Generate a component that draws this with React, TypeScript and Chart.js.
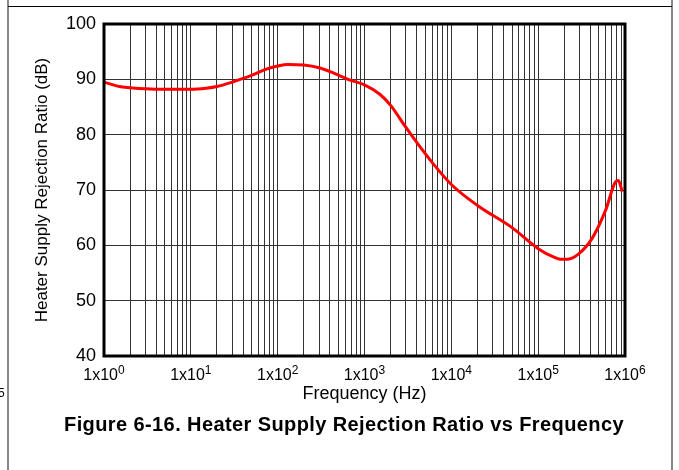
import React, { useEffect, useRef } from "react";
import { Chart, registerables } from "chart.js";

Chart.register(...registerables);

// Frequency (Hz) and heater supply rejection ratio (dB)
const freqHz = [
  1, 1.5, 2, 3, 5, 10, 15, 20, 30, 50, 70, 100, 130, 200, 300, 430, 700, 1000,
  1500, 2000, 3000, 4000, 6000, 10000, 20000, 50000, 100000, 150000,
  180000, 220000, 290000, 420000, 600000, 780000, 840000, 930000,
];
const hsrrDb = [
  89.5, 88.7, 88.5, 88.3, 88.2, 88.2, 88.4, 88.7, 89.5, 90.7, 91.7, 92.4, 92.7,
  92.6, 92.1, 91.2, 89.8, 89.0, 87.3, 85.3, 81.3, 78.6, 75.0, 71.0, 67.2, 63.2,
  59.4, 57.9, 57.5, 57.5, 58.4, 61.3, 66.4, 71.5, 71.7, 69.7,
];

// Axis ticks
const decades = [1, 10, 100, 1000, 10000, 100000, 1000000];
const decadeBase = "1x10";
const decadeExponents = ["0", "1", "2", "3", "4", "5", "6"];
const minorMultipliers = [2, 3, 4, 5, 6, 7, 8, 9];
const yMin = 40;
const yMax = 100;
const yStep = 10;

const xTitle = "Frequency (Hz)";
const yTitle = "Heater Supply Rejection Ratio (dB)";
const caption = "Figure 6-16. Heater Supply Rejection Ratio vs Frequency";

const FONT = "'Liberation Sans', Arial, Helvetica, sans-serif";

const frameBox = {
  id: "frameBox",
  afterDraw(chart: any) {
    const { ctx, chartArea } = chart;
    ctx.save();
    ctx.strokeStyle = "#000";
    ctx.lineWidth = 3;
    ctx.strokeRect(
      chartArea.left,
      chartArea.top,
      chartArea.right - chartArea.left,
      chartArea.bottom - chartArea.top
    );
    ctx.restore();
  },
};

// Draws decade tick labels "1x10" with a raised exponent at the x scale's pixels
const decadeLabelsPlugin = {
  id: "decadeLabels",
  afterDraw(chart: any) {
    const { ctx, chartArea } = chart;
    const xs = chart.scales.x;
    const baseFont = `16px ${FONT}`;
    const expFont = `12px ${FONT}`;
    const baseY = chartArea.bottom + 24;
    const expY = baseY - 6.5;
    ctx.save();
    ctx.fillStyle = "#000";
    ctx.textBaseline = "alphabetic";
    ctx.textAlign = "left";
    decades.forEach((d, i) => {
      const px = xs.getPixelForValue(d);
      ctx.font = baseFont;
      const wb = ctx.measureText(decadeBase).width;
      ctx.font = expFont;
      const we = ctx.measureText(decadeExponents[i]).width;
      const start = px - (wb + we) / 2;
      ctx.font = baseFont;
      ctx.fillText(decadeBase, start, baseY);
      ctx.font = expFont;
      ctx.fillText(decadeExponents[i], start + wb, expY);
    });
    ctx.restore();
  },
};

export default function App() {
  const canvasRef = useRef<HTMLCanvasElement | null>(null);

  useEffect(() => {
    if (!canvasRef.current) return;
    const tickValues: number[] = [];
    decades.forEach((d, i) => {
      tickValues.push(d);
      if (i < decades.length - 1) minorMultipliers.forEach((m) => tickValues.push(d * m));
    });

    const chart = new Chart(canvasRef.current, {
      type: "line",
      data: {
        datasets: [
          {
            data: freqHz.map((f, i) => ({ x: f, y: hsrrDb[i] })),
            borderColor: "#ff0000",
            borderWidth: 3,
            pointRadius: 0,
            fill: false,
            cubicInterpolationMode: "monotone",
          },
        ],
      },
      options: {
        responsive: false,
        animation: false,
        devicePixelRatio: 1,
        layout: { padding: { left: 0, right: 54, top: 24, bottom: 0 } },
        plugins: { legend: { display: false }, tooltip: { enabled: false } },
        scales: {
          x: {
            type: "logarithmic",
            min: 1,
            max: 1000000,
            afterBuildTicks: (scale: any) => {
              scale.ticks = tickValues.map((v) => ({ value: v }));
            },
            afterFit: (scale: any) => {
              scale.height = 114;
            },
            ticks: {
              autoSkip: false,
              maxRotation: 0,
              minRotation: 0,
              padding: 9,
              color: "#000",
              font: { family: FONT, size: 16 },
              callback: () => "",
            },
            grid: { color: "#333", lineWidth: 1, drawTicks: false },
            border: { display: false },
            title: {
              display: true,
              text: xTitle,
              color: "#000",
              font: { family: FONT, size: 18 },
              padding: { top: 0, bottom: 65 },
            },
          },
          y: {
            type: "linear",
            min: yMin,
            max: yMax,
            afterFit: (scale: any) => {
              scale.width = 104;
            },
            ticks: {
              stepSize: yStep,
              padding: 8,
              color: "#000",
              font: { family: FONT, size: 18 },
            },
            grid: { color: "#333", lineWidth: 1, drawTicks: false },
            border: { display: false },
            title: {
              display: true,
              text: yTitle,
              color: "#000",
              font: { family: FONT, size: 17 },
              padding: { top: 32, bottom: 0 },
            },
          },
        },
      },
      plugins: [frameBox, decadeLabelsPlugin],
    } as any);
    return () => chart.destroy();
  }, []);

  return (
    <div
      style={{
        position: "absolute",
        left: 0,
        top: 0,
        width: 679,
        height: 470,
        background: "#fff",
        overflow: "hidden",
      }}
    >
      <canvas ref={canvasRef} width={679} height={470} style={{ position: "absolute", left: 0, top: 0 }} />
      <div style={{ position: "absolute", left: 7, top: 0, width: 2, height: 470, background: "#888" }} />
      <div style={{ position: "absolute", left: 671, top: 0, width: 2, height: 470, background: "#888" }} />
      <div style={{ position: "absolute", left: 8, top: 6, width: 664, height: 1, background: "#000" }} />
      <div
        style={{
          position: "absolute",
          left: -2,
          top: 387,
          fontFamily: FONT,
          fontSize: 12,
          lineHeight: "12px",
          color: "#000",
        }}
      >
        5
      </div>
      <div
        style={{
          position: "absolute",
          left: 44,
          width: 600,
          top: 414,
          textAlign: "center",
          fontFamily: FONT,
          fontWeight: "bold",
          fontSize: 20,
          lineHeight: "20px",
          letterSpacing: "0.4px",
          color: "#000",
          whiteSpace: "nowrap",
        }}
      >
        {caption}
      </div>
    </div>
  );
}
